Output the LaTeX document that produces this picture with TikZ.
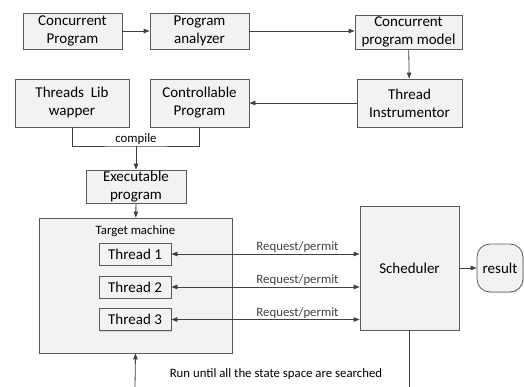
\documentclass[tikz,border=0pt]{standalone}
\usepackage{fontspec}
\setmainfont{Carlito}
\usepackage{tikz}
\usetikzlibrary{arrows.meta,positioning,calc,shadows}
\definecolor{BoxEdge}{HTML}{5A5A5A}
\definecolor{BoxFill}{HTML}{F2F2F2}
\definecolor{LineGray}{HTML}{404040}

\begin{document}
\begin{tikzpicture}[
        x=1pt,y=-1pt,
        every node/.style={font=\fontsize{15}{18}\selectfont},
        box/.style={draw=BoxEdge,fill=BoxFill,align=center,inner sep=0pt,line width=0.8pt,
          drop shadow={opacity=0.25,shadow xshift=1pt,shadow yshift=-1pt}},
        small/.style={font=\fontsize{12.8}{15}\selectfont,inner sep=1pt},
        arr/.style={-{Triangle[length=6pt,width=4.5pt]},LineGray,line width=0.8pt},
        biarr/.style={{Triangle[length=6pt,width=4.5pt]}-{Triangle[length=6pt,width=4.5pt]},LineGray,line width=0.8pt},
        ln/.style={LineGray,line width=0.8pt}
      ]
        \useasboundingbox (0,0) rectangle (524,387);
        \node[box,minimum width=99pt,minimum height=36pt] (cprog) at (72.5,31) {Concurrent\\Program};
        \node[box,minimum width=99pt,minimum height=36pt] (analyzer) at (199.5,31) {Program\\analyzer};
        \node[box,minimum width=107pt,minimum height=34pt] (model) at (408.5,32) {Concurrent\\program model};
        \node[box,minimum width=114pt,minimum height=48pt] (lib) at (72,103) {Threads~~Lib\\wapper};
        \node[box,minimum width=99pt,minimum height=48pt] (ctrl) at (199.5,103) {Controllable\\Program};
        \node[box,minimum width=105pt,minimum height=48pt] (instr) at (409.5,103) {Thread\\Instrumentor};
        \node[box,minimum width=100pt,minimum height=33pt] (exe) at (136,186.5) {Executable\\program};
        \node[box,minimum width=193pt,minimum height=135pt] (target) at (135.5,285.5) {};
        \node[small,below=7pt of target.north] (tmlabel) {Target machine};
        \node[box,minimum width=72pt,minimum height=22pt] (t1) at (135,254) {Thread 1};
        \node[box,minimum width=72pt,minimum height=22pt] (t2) at (135,287) {Thread 2};
        \node[box,minimum width=72pt,minimum height=22pt] (t3) at (135,319.5) {Thread 3};
        \node[box,minimum width=99pt,minimum height=124pt] (sched) at (409.5,268) {Scheduler};
        \node[box,rounded corners=13pt,minimum width=46pt,minimum height=48pt] (result) at (500,268) {result};
        \coordinate (join) at (136,146);
        \coordinate (loopL) at (135,387);
        \coordinate (loopR) at (sched.south |- loopL);
        \draw[arr] (cprog) -- (analyzer);
        \draw[arr] (analyzer.east) -- (model.west |- analyzer.east);
        \draw[arr] (model) -- (instr);
        \draw[arr] (instr) -- (ctrl);
        \draw[ln] (lib.south) |- (join) -| (ctrl.south);
        \node[small,above=0pt of join] (compile) {compile};
        \draw[arr] (join) -- (exe);
        \draw[arr] (exe) -- (target);
        \foreach \t in {t1,t2,t3}{
          \draw[biarr] (\t.east) -- (sched.west |- \t.east)
            node[small,pos=0.67,above] {Request/permit};
        }
        \draw[arr] (sched) -- (result);
        \draw[arr] (loopL) -- (target.south);
        \draw[ln] (sched.south) -- (loopR);
        \node[small] (runlabel) at (276,374) {Run until all the state space are searched};
      \end{tikzpicture}
\end{document}
